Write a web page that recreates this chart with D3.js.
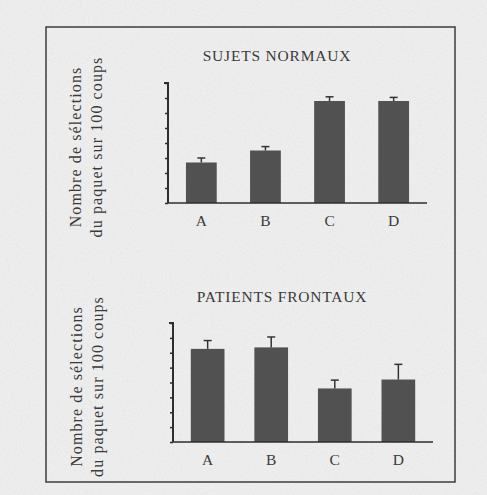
<!DOCTYPE html>
<html>
<head>
<meta charset="utf-8">
<script src="https://cdn.jsdelivr.net/npm/d3@7"></script>
<style>
  body { margin: 0; background: #efefef; }
  svg { display: block; }
  text { font-family: "Liberation Serif", "DejaVu Serif", serif; fill: #3a3a3a; }
</style>
</head>
<body>
<div id="chart"></div>
<script>
// data
var categories = ["A", "B", "C", "D"];
var normauxValues = [13.5, 17.5, 34, 34];
var normauxErrors = [1.5, 1.3, 1.4, 1.2];
var frontauxValues = [31.3, 31.8, 18, 21];
var frontauxErrors = [2.8, 3.5, 2.8, 5.1];
var yTicks = [0, 5, 10, 15, 20, 25, 30, 35, 40];
var titles = ["SUJETS NORMAUX", "PATIENTS FRONTAUX"];
var yLabel = ["Nombre de sélections", "du paquet sur 100 coups"];

var W = 487, H = 495;
var svg = d3.select("#chart").append("svg")
    .attr("width", W)
    .attr("height", H);

// a little grain so it reads like the scanned page
var flt = svg.append("defs").append("filter").attr("id", "grain");
flt.append("feTurbulence")
    .attr("type", "fractalNoise")
    .attr("baseFrequency", 0.6)
    .attr("numOctaves", 2)
    .attr("seed", 3);
flt.append("feColorMatrix")
    .attr("type", "matrix")
    .attr("values", "0 0 0 0 0  0 0 0 0 0  0 0 0 0 0  0 0 0 0.05 0");

svg.append("rect")
    .attr("width", W).attr("height", H)
    .attr("fill", "#f2f2f2");
svg.append("rect")
    .attr("width", W).attr("height", H)
    .attr("filter", "url(#grain)");

// frame round both panels
svg.append("rect")
    .attr("x", 46).attr("y", 27)
    .attr("width", 409).attr("height", 455)
    .attr("fill", "none")
    .attr("stroke", "#3c3c3c")
    .attr("stroke-width", 1.5);

var panels = [
  {title: titles[0], values: normauxValues, errors: normauxErrors,
   left: 168, right: 427, top: 83, bottom: 203, pad: 0.52, titleX: 277, titleY: 57, labelX: 77},
  {title: titles[1], values: frontauxValues, errors: frontauxErrors,
   left: 173, right: 433, top: 323, bottom: 442, pad: 0.47, titleX: 282, titleY: 298, labelX: 78}
];

panels.forEach(function(p) {
  var data = categories.map(function(c, i) {
    return {cat: c, value: p.values[i], err: p.errors[i]};
  });

  var x = d3.scaleBand()
      .domain(categories)
      .range([p.left, p.right])
      .paddingInner(p.pad)
      .paddingOuter(0.28);
  var y = d3.scaleLinear()
      .domain([0, 40])
      .range([p.bottom, p.top]);

  var g = svg.append("g");

  // title
  g.append("text")
      .attr("x", p.titleX)
      .attr("y", p.titleY)
      .attr("text-anchor", "middle")
      .attr("dominant-baseline", "middle")
      .style("font-size", "15.5px")
      .style("letter-spacing", "0.8px")
      .text(p.title);

  // y label, two lines
  var cy = (p.top + p.bottom) / 2 + 4;
  yLabel.forEach(function(line, i) {
    g.append("text")
        .attr("transform", "translate(" + (p.labelX + i * 21) + "," + cy + ") rotate(-90)")
        .attr("text-anchor", "middle")
        .attr("dominant-baseline", "middle")
        .style("font-size", "16px")
        .style("letter-spacing", "1.1px")
        .text(line);
  });

  // bars
  g.selectAll(".bar")
      .data(data)
    .enter().append("rect")
      .attr("class", "bar")
      .attr("x", function(d) { return x(d.cat); })
      .attr("width", x.bandwidth())
      .attr("y", function(d) { return y(d.value); })
      .attr("height", function(d) { return y(0) - y(d.value); })
      .attr("fill", "#515151");

  // error bars, upward only
  var eb = g.selectAll(".err")
      .data(data)
    .enter().append("g")
      .attr("class", "err")
      .attr("stroke", "#333")
      .attr("stroke-width", 1.5);
  eb.append("line")
      .attr("x1", function(d) { return x(d.cat) + x.bandwidth() / 2; })
      .attr("x2", function(d) { return x(d.cat) + x.bandwidth() / 2; })
      .attr("y1", function(d) { return y(d.value); })
      .attr("y2", function(d) { return y(d.value + d.err); });
  eb.append("line")
      .attr("x1", function(d) { return x(d.cat) + x.bandwidth() / 2 - 4; })
      .attr("x2", function(d) { return x(d.cat) + x.bandwidth() / 2 + 4; })
      .attr("y1", function(d) { return y(d.value + d.err); })
      .attr("y2", function(d) { return y(d.value + d.err); });

  // y axis, ticks without labels
  var yAxis = g.append("g")
      .attr("transform", "translate(" + p.left + ",0)")
      .call(d3.axisLeft(y).tickValues(yTicks).tickSize(3).tickFormat(""));
  yAxis.select(".domain").attr("stroke", "#2e2e2e").attr("stroke-width", 2)
      .attr("d", "M-4," + p.top + "H0V" + p.bottom);
  yAxis.selectAll(".tick line").attr("stroke", "#2e2e2e").attr("stroke-width", 1.5);

  // x axis
  var xAxis = g.append("g")
      .attr("transform", "translate(0," + p.bottom + ")")
      .call(d3.axisBottom(x).tickSize(0).tickPadding(12));
  xAxis.select(".domain").attr("stroke", "#2e2e2e").attr("stroke-width", 1.5)
      .attr("d", "M" + p.left + ",0H" + p.right);
  xAxis.selectAll(".tick text")
      .style("font-family", "'Liberation Serif', serif")
      .style("font-size", "15.5px")
      .attr("fill", "#3a3a3a");
});
</script>
</body>
</html>
